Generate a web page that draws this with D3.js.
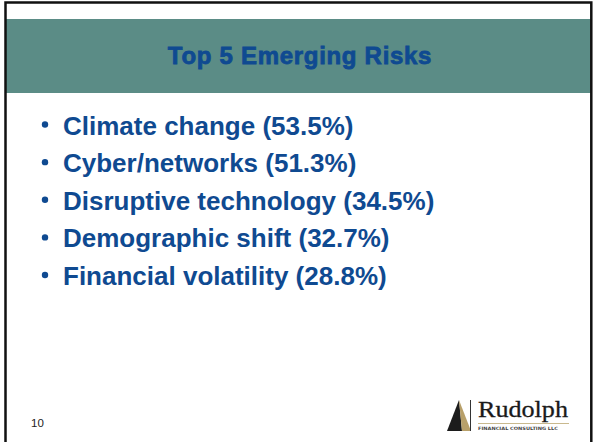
<!DOCTYPE html>
<html>
<head>
<meta charset="utf-8">
<script src="https://cdn.jsdelivr.net/npm/d3@7"></script>
<style>
  body { margin: 0; background: #fff; }
  svg { display: block; }
</style>
</head>
<body>
<script>
const width = 594;
const height = 442;

const title = "Top 5 Emerging Risks";
const risks = ["Climate change", "Cyber/networks", "Disruptive technology", "Demographic shift", "Financial volatility"];
const shares = [53.5, 51.3, 34.5, 32.7, 28.8];
const pageNumber = "10";

const blue = "#0f4a91";
const teal = "#5b8c86";

const svg = d3.select("body")
    .append("svg")
    .attr("width", width)
    .attr("height", height);

svg.append("rect")
    .attr("width", width)
    .attr("height", height)
    .attr("fill", "#fff");

// title band
svg.append("rect")
    .attr("x", 6)
    .attr("y", 19)
    .attr("width", 585)
    .attr("height", 74)
    .attr("fill", teal);

svg.append("text")
    .attr("x", 300)
    .attr("y", 64)
    .attr("text-anchor", "middle")
    .attr("font-family", "Liberation Sans, Arial, sans-serif")
    .attr("font-weight", "bold")
    .attr("font-size", 24)
    .attr("letter-spacing", 0.7)
    .attr("fill", blue)
    .attr("stroke", blue)
    .attr("stroke-width", 0.8)
    .text(title);

// slide frame
svg.append("path")
    .attr("d", "M5.5,442 V2.5 H591.3 V442")
    .attr("fill", "none")
    .attr("stroke", "#111")
    .attr("stroke-width", 2.5);

// bullet list, rows placed with a point scale
const y = d3.scalePoint()
    .domain(risks)
    .range([134.5, 285]);

const rows = svg.append("g")
    .selectAll("g")
    .data(risks.map((r, i) => ({ label: r, value: shares[i] })))
    .join("g")
    .attr("transform", d => `translate(0, ${y(d.label)})`);

rows.append("circle")
    .attr("cx", 45)
    .attr("cy", -10)
    .attr("r", 3.2)
    .attr("fill", blue);

rows.append("text")
    .attr("x", 63)
    .attr("font-family", "Liberation Sans, Arial, sans-serif")
    .attr("font-weight", "bold")
    .attr("font-size", 26)
    .attr("fill", blue)
    .text(d => `${d.label} (${d3.format(".1f")(d.value)}%)`);

// page number
svg.append("text")
    .attr("x", 31)
    .attr("y", 427)
    .attr("font-family", "Liberation Sans, Arial, sans-serif")
    .attr("font-size", 11.5)
    .attr("fill", "#222")
    .text(pageNumber);

// logo
const logo = svg.append("g");
logo.append("polygon")
    .attr("points", "447,431 459,400 462,431")
    .attr("fill", "#1c1c1c");
logo.append("polygon")
    .attr("points", "459,400 471,431 462,431")
    .attr("fill", "#b8a06a");
logo.append("line")
    .attr("x1", 470.5)
    .attr("x2", 470.5)
    .attr("y1", 400)
    .attr("y2", 431)
    .attr("stroke", "#333")
    .attr("stroke-width", 1);
logo.append("text")
    .attr("x", 478)
    .attr("y", 417)
    .attr("font-family", "Liberation Serif, Times New Roman, serif")
    .attr("font-size", 24)
    .attr("textLength", 90)
    .attr("lengthAdjust", "spacingAndGlyphs")
    .attr("fill", "#1a1a1a")
    .attr("stroke", "#1a1a1a")
    .attr("stroke-width", 0.3)
    .text("Rudolph");
logo.append("line")
    .attr("x1", 478)
    .attr("x2", 569)
    .attr("y1", 423.5)
    .attr("y2", 423.5)
    .attr("stroke", "#c9b98e")
    .attr("stroke-width", 1);
logo.append("text")
    .attr("x", 478)
    .attr("y", 430)
    .attr("font-family", "DejaVu Sans, sans-serif")
    .attr("font-size", 4.5)
    .attr("font-weight", "bold")
    .attr("textLength", 80)
    .attr("lengthAdjust", "spacingAndGlyphs")
    .attr("fill", "#444")
    .text("FINANCIAL CONSULTING LLC");
</script>
</body>
</html>
